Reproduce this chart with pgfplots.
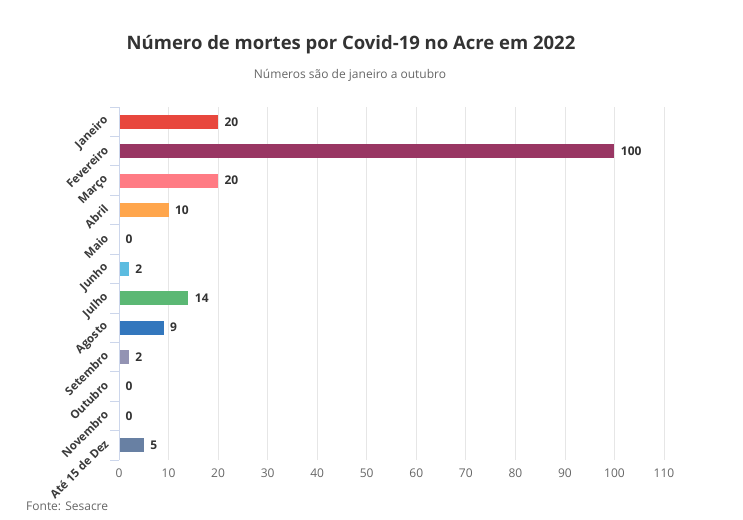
\documentclass[border=0pt]{standalone}
\usepackage{pgfplots}
\pgfplotsset{compat=1.18}
\usepackage{fontspec}
\setmainfont{Open Sans}
\definecolor{cJan}{HTML}{E8473D}
\definecolor{cFev}{HTML}{993663}
\definecolor{cMar}{HTML}{FF7B84}
\definecolor{cAbr}{HTML}{FFA64D}
\definecolor{cMai}{HTML}{5CBCE0}
\definecolor{cJun}{HTML}{5CBCE0}
\definecolor{cJul}{HTML}{5BB874}
\definecolor{cAgo}{HTML}{3377BD}
\definecolor{cSet}{HTML}{9393B3}
\definecolor{cOut}{HTML}{9393B3}
\definecolor{cNov}{HTML}{9393B3}
\definecolor{cDez}{HTML}{6880A3}
\definecolor{txtdark}{HTML}{333333}
\definecolor{txtlab}{HTML}{3A3A3A}
\definecolor{txtgray}{HTML}{666666}
\definecolor{gridc}{HTML}{E6E6E6}
\definecolor{axisc}{HTML}{CCD6EB}
\begin{document}
\begin{tikzpicture}[x=1pt,y=1pt]
\path[use as bounding box] (0,0) rectangle (743,519);
\node[font=\bfseries\fontsize{18.5}{22}\selectfont, text=txtdark] at (351,474) {Número de mortes por Covid-19 no Acre em 2022};
\node[font=\fontsize{12}{14}\selectfont, text=txtgray] at (350,444) {Números são de janeiro a outubro};
\node[font=\fontsize{12}{14}\selectfont, text=txtgray, anchor=west, inner sep=0pt] at (26,13) {Fonte: Sesacre};
\begin{axis}[
  at={(119pt,59pt)}, anchor=south west, scale only axis,
  width=545pt, height=353pt,
  xbar, bar width=14pt, bar shift=0pt,
  xmin=0, xmax=110, ymin=-0.5, ymax=11.5, y dir=reverse,
  /pgf/number format/assume math mode=true,
  axis line style={draw=none},
  xtick={0,10,...,110}, xmajorgrids, major grid style={draw=gridc, line width=0.8pt},
  ytick={0,...,11},
  yticklabels={Janeiro,Fevereiro,Março,Abril,Maio,Junho,Julho,Agosto,Setembro,Outubro,Novembro,Até 15 de Dez},
  minor ytick={-0.5,0.5,...,11.5},
  ytick pos=left, tick align=outside,
  major tick length=0pt, minor tick length=9pt,
  minor tick style={draw=axisc, line width=0.8pt},
  xticklabel style={font=\fontsize{12}{14}\selectfont, text=txtgray, yshift=-5pt},
  yticklabel style={font=\bfseries\fontsize{11.5}{13}\selectfont, text=txtlab, xshift=-12pt, yshift=4pt, rotate=45, anchor=east, inner sep=1pt},
  point meta=x,
  nodes near coords,
  every node near coord/.append style={font=\bfseries\fontsize{12}{14}\selectfont, text=txtdark, anchor=west, xshift=3pt},
  clip=false,
]
\addplot[fill=cJan, draw=none] coordinates {(20,0)};
\addplot[fill=cFev, draw=none] coordinates {(100,1)};
\addplot[fill=cMar, draw=none] coordinates {(20,2)};
\addplot[fill=cAbr, draw=none] coordinates {(10,3)};
\addplot[fill=cMai, draw=none] coordinates {(0,4)};
\addplot[fill=cJun, draw=none] coordinates {(2,5)};
\addplot[fill=cJul, draw=none] coordinates {(14,6)};
\addplot[fill=cAgo, draw=none] coordinates {(9,7)};
\addplot[fill=cSet, draw=none] coordinates {(2,8)};
\addplot[fill=cOut, draw=none] coordinates {(0,9)};
\addplot[fill=cNov, draw=none] coordinates {(0,10)};
\addplot[fill=cDez, draw=none] coordinates {(5,11)};
\draw[axisc, line width=0.8pt] (rel axis cs:0,0) -- (rel axis cs:0,1);
\end{axis}
\end{tikzpicture}
\end{document}
